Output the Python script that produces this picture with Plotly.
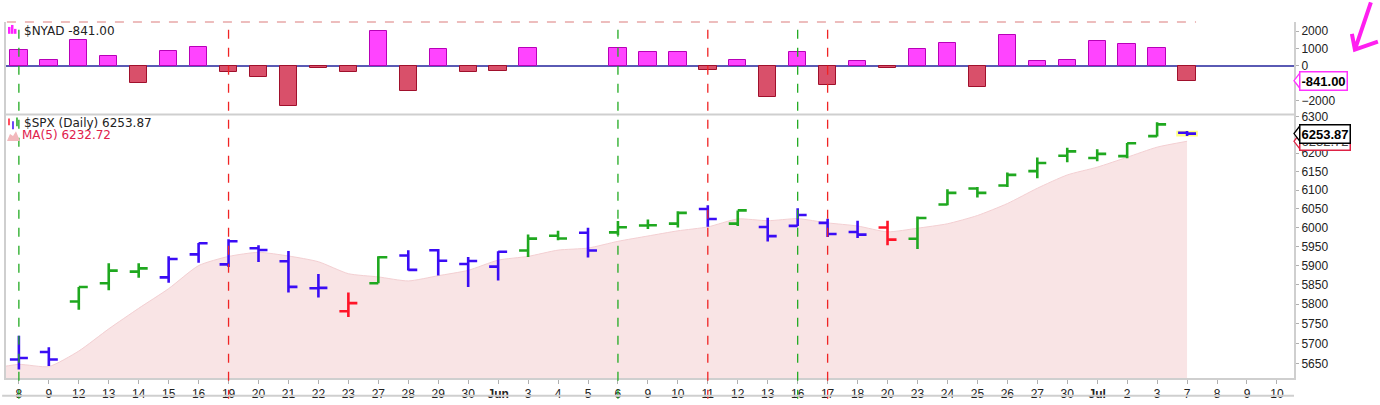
import math
import plotly.graph_objects as go

# trading days on the chart (2025)
dates = ["2025-05-08", "2025-05-09", "2025-05-12", "2025-05-13", "2025-05-14", "2025-05-15",
         "2025-05-16", "2025-05-19", "2025-05-20", "2025-05-21", "2025-05-22", "2025-05-23",
         "2025-05-27", "2025-05-28", "2025-05-29", "2025-05-30",
         "2025-06-02", "2025-06-03", "2025-06-04", "2025-06-05", "2025-06-06", "2025-06-09",
         "2025-06-10", "2025-06-11", "2025-06-12", "2025-06-13", "2025-06-16", "2025-06-17",
         "2025-06-18", "2025-06-20", "2025-06-23", "2025-06-24", "2025-06-25", "2025-06-26",
         "2025-06-27", "2025-06-30",
         "2025-07-01", "2025-07-02", "2025-07-03", "2025-07-07"]
prev_day = "2025-05-07"
empty_days = ["2025-07-08", "2025-07-09", "2025-07-10"]

tick_labels = ["8", "9", "12", "13", "14", "15", "16", "19", "20", "21", "22", "23", "27", "28",
               "29", "30", "<b>Jun</b>", "3", "4", "5", "6", "9", "10", "11", "12", "13", "16", "17",
               "18", "20", "23", "24", "25", "26", "27", "30", "<b>Jul</b>", "2", "3", "7", "8", "9", "10"]

# $SPX daily bars
opens = [5660, 5679, 5807, 5854, 5884, 5869, 5929, 5903, 5945, 5911, 5841, 5782, 5854, 5926,
         5940, 5904, 5897, 5939, 5978, 5986, 5987, 6005, 6010, 6049, 6010, 6001, 6004, 6012,
         5988, 6000, 5970, 6061, 6104, 6112, 6151, 6193, 6187, 6192, 6247, 6256]
highs = [5720, 5691, 5844, 5906, 5906, 5924, 5959, 5969, 5953, 5938, 5878, 5830, 5924, 5940,
         5943, 5922, 5937, 5981, 5991, 5999, 6017, 6021, 6043, 6059, 6045, 6026, 6051, 6023,
         6018, 6018, 6029, 6102, 6108, 6147, 6188, 6215, 6211, 6228, 6285, 6261]
lows = [5635, 5644, 5786, 5836, 5868, 5855, 5907, 5896, 5909, 5830, 5817, 5767, 5854, 5887,
        5874, 5844, 5861, 5922, 5966, 5921, 5979, 5996, 6000, 6002, 6004, 5963, 6004, 5975,
        5972, 5953, 5943, 6059, 6080, 6108, 6132, 6175, 6178, 6186, 6246, 6247]
closes = [5663.94, 5659.91, 5844.19, 5886.55, 5892.58, 5916.93, 5958.38, 5963.60, 5940.46,
          5844.61, 5842.01, 5802.82, 5921.54, 5888.55, 5912.17, 5911.69, 5935.94, 5970.37,
          5970.81, 5939.30, 6000.36, 6005.88, 6038.81, 6022.24, 6045.26, 5976.97, 6033.11,
          5982.72, 5980.87, 5967.84, 6025.17, 6092.18, 6092.16, 6141.02, 6173.07, 6204.95,
          6198.01, 6227.42, 6279.35, 6253.87]
# bar colour state from the charting package: up / neutral / down
state = ["n", "n", "u", "u", "u", "n", "n", "n", "n", "n", "n", "d", "u", "n", "n", "n",
         "n", "u", "u", "n", "u", "u", "u", "n", "u", "n", "n", "n", "n", "d", "u", "u", "u", "u",
         "u", "u", "u", "u", "u", "n"]

# MA(5) of the close, starting one day before the first bar
ma5 = [5635.88, 5647.84, 5642.48, 5681.25, 5737.17, 5789.43, 5840.03, 5899.73, 5923.61,
       5934.39, 5924.80, 5909.81, 5878.70, 5870.29, 5859.91, 5873.42, 5887.35, 5913.98,
       5923.74, 5940.20, 5945.62, 5963.36, 5977.34, 5991.03, 6001.32, 6022.51, 6017.83,
       6023.28, 6012.06, 6003.79, 5988.30, 5997.94, 6009.76, 6031.64, 6063.67, 6104.72,
       6140.68, 6161.84, 6188.89, 6216.56, 6232.72]

# $NYAD advance/decline (no print on Jun 4 and Jun 5)
nyad = [900, 340, 1465, 545, -990, 830, 1110, -355, -655, -2270, -145, -355, 2030, -1425,
        980, -355, -280, 1055, None, None, 1055, 790, 790, -225, 360, -1780, 790, -1090, 280,
        -90, 980, 1335, -1215, 1770, 280, 360, 1410, 1280, 1055, -841]

green_marks = ["2025-05-08", "2025-06-06", "2025-06-16"]
red_marks = ["2025-05-19", "2025-06-11", "2025-06-17"]

W, H = 1380, 405
ML, MR, MT, MB = 4, 86, 22, 21
PW, PH = W - ML - MR, H - MT - MB


def px(x, y):
    # pixel position -> paper coords
    return (x - ML) / PW, (H - MB - y) / PH


split = px(0, 116)[1]
categories = [prev_day] + dates + empty_days
spx_range = [math.log10(5614), math.log10(6307)]
spx_px = PH * split / (spx_range[1] - spx_range[0])   # pixels per decade
nyad_px = PH * (1 - split) / 5295.0                  # pixels per unit

fig = go.Figure()

# MA(5) area
fig.add_trace(go.Scatter(
    x=[prev_day] + dates, y=ma5, mode="lines", fill="tozeroy",
    line=dict(color="#f3cfd2", width=1, shape="spline", smoothing=0.6),
    fillcolor="#f9e4e5", hoverinfo="skip", yaxis="y"))

# NYAD bars
pos_fill, neg_fill = "#ff44ff", "#d9506a"
pos_edge, neg_edge = "#b800b8", "#a0102c"
fig.add_trace(go.Bar(
    x=dates, y=nyad, width=0.58, yaxis="y2",
    marker=dict(color=[pos_fill if (v or 0) >= 0 else neg_fill for v in nyad],
                line=dict(color=[pos_edge if (v or 0) >= 0 else neg_edge for v in nyad], width=1))))

# SPX bars split by colour state (on an overlay axis so they sit above the MA area)
state_colors = {"u": "#1fa81f", "n": "#3a0cf5", "d": "#ff1428"}
for key, col in state_colors.items():
    idx = [i for i, s in enumerate(state) if s == key]
    fig.add_trace(go.Ohlc(
        x=[dates[i] for i in idx], open=[opens[i] for i in idx], high=[highs[i] for i in idx],
        low=[lows[i] for i in idx], close=[closes[i] for i in idx], tickwidth=0.3,
        increasing=dict(line=dict(color=col, width=2.6)),
        decreasing=dict(line=dict(color=col, width=2.6)), yaxis="y3"))

shapes = []
# yellow highlight on the live bar
last = categories.index(dates[-1])
shapes.append(dict(type="rect", xref="x", yref="y", x0=last - 0.36, x1=last + 0.36,
                   y0=lows[-1] - 1, y1=highs[-1] + 1, fillcolor="#ffff80", line=dict(width=0),
                   layer="below"))
# signal lines
for d in green_marks:
    shapes.append(dict(type="line", xref="x", yref="paper", x0=d, x1=d, y0=-MB / PH, y1=1,
                       line=dict(color="#22aa22", width=1.3, dash="dash")))
for d in red_marks:
    shapes.append(dict(type="line", xref="x", yref="paper", x0=d, x1=d, y0=-MB / PH, y1=1,
                       line=dict(color="#f02424", width=1.3, dash="dash")))
# panel separators / borders
shapes.append(dict(type="line", xref="paper", yref="paper", x0=0, x1=1, y0=split, y1=split,
                   line=dict(color="#cfcfcf", width=2)))
shapes.append(dict(type="line", xref="paper", yref="paper", x0=-0.003, x1=1, y0=px(0, 402)[1],
                   y1=px(0, 402)[1], line=dict(color="#cfcfcf", width=2)))
shapes.append(dict(type="line", xref="x", yref="paper", x0=0, x1=last + 0.3, y0=1, y1=1,
                   line=dict(color="#e8a8a8", width=1.5, dash="dash")))
# legend icons
for x0, top in [(6, 27), (9, 25), (12, 29)]:
    p0, p1 = px(x0, 34), px(x0 + 2.5, top)
    shapes.append(dict(type="rect", xref="paper", yref="paper", x0=p0[0], x1=p1[0], y0=p0[1],
                       y1=p1[1], fillcolor="#ff22ff", line=dict(width=0)))
for x0, y0, y1, col in [(7, 120, 127, "#ff1428"), (11, 123, 131, "#3a0cf5"), (15, 119, 128, "#1fa81f")]:
    p0, p1 = px(x0, y0), px(x0, y1)
    shapes.append(dict(type="line", xref="paper", yref="paper", x0=p0[0], x1=p1[0], y0=p0[1],
                       y1=p1[1], line=dict(color=col, width=1.5)))
pts = [px(5, 143), px(8, 136), px(11, 138), px(14, 133), px(18, 143)]
shapes.append(dict(type="path", xref="paper", yref="paper", fillcolor="#f2b8bc", line=dict(width=0),
                   path="M" + " L".join("%.5f,%.5f" % p for p in pts) + " Z"))
# hand-drawn arrow
t0, m0, tip, lb, rb = px(1371, 2), px(1363, 26), px(1355, 50), px(1352, 34), px(1378, 42)
shapes.append(dict(type="path", xref="paper", yref="paper", line=dict(color="#ff1ff0", width=4),
                   path="M%.5f,%.5f Q%.5f,%.5f %.5f,%.5f M%.5f,%.5f L%.5f,%.5f L%.5f,%.5f" % (
                       t0 + m0 + tip + lb + tip + rb)))

# pointer tips on the last-value boxes
xa, xb = px(1294, 0)[0], px(1300, 0)[0]
for ref, val, col in [("y", ma5[-1], "#dd2244"), ("y", closes[-1], "black")]:
    up, dn = val * 10 ** (8 / spx_px), val * 10 ** (-8 / spx_px)
    shapes.append(dict(type="path", xref="paper", yref=ref, fillcolor="white",
                       line=dict(color=col, width=1.3),
                       path="M%.5f,%.3f L%.5f,%.3f L%.5f,%.3f Z" % (xb, up, xa, val, xb, dn)))
v = nyad[-1]
shapes.append(dict(type="path", xref="paper", yref="y2", fillcolor="white",
                   line=dict(color="#ff33ff", width=1.3),
                   path="M%.5f,%.1f L%.5f,%.1f L%.5f,%.1f Z" % (
                       xb, v + 8 / nyad_px, xa, v, xb, v - 8 / nyad_px)))

txt_font = dict(family="DejaVu Sans", size=12, color="#222222")
hx = px(20, 0)[0]
annotations = [
    dict(xref="paper", yref="paper", x=hx, y=px(0, 31)[1], text="$NYAD -841.00",
         showarrow=False, xanchor="left", yanchor="middle", font=txt_font),
    dict(xref="paper", yref="paper", x=hx, y=px(0, 125)[1], text="$SPX (Daily) 6253.87",
         showarrow=False, xanchor="left", yanchor="middle", font=txt_font),
    dict(xref="paper", yref="paper", x=px(18, 0)[0], y=px(0, 137)[1], text="MA(5) 6232.72",
         showarrow=False, xanchor="left", yanchor="middle",
         font=dict(family="DejaVu Sans", size=12, color="#e0204c")),
]
box_x = px(1299, 0)[0]
annotations += [
    dict(xref="paper", yref="y2", x=box_x, y=nyad[-1], text="<b>-841.00</b>", showarrow=False,
         xanchor="left", yanchor="middle", bgcolor="white", bordercolor="#ff33ff", borderwidth=1.5,
         borderpad=1, font=dict(family="Liberation Sans", size=13, color="black")),
    dict(xref="paper", yref="y", x=box_x, y=math.log10(ma5[-1]), text="6232.72", showarrow=False,
         xanchor="left", yanchor="middle", bgcolor="white", bordercolor="#dd2244", borderwidth=1.5,
         borderpad=1, font=dict(family="Liberation Sans", size=13, color="#444444")),
    dict(xref="paper", yref="y", x=box_x, y=math.log10(closes[-1]), text="<b>6253.87</b>",
         showarrow=False, xanchor="left", yanchor="middle", bgcolor="white", bordercolor="black",
         borderwidth=1.5, borderpad=1, font=dict(family="Liberation Sans", size=13, color="black")),
]

tick_font = dict(family="Liberation Sans", size=12, color="#222222")
spx_ticks = [5650, 5700, 5750, 5800, 5850, 5900, 5950, 6000, 6050, 6100, 6150, 6200, 6300]

fig.update_layout(
    width=W, height=H, margin=dict(l=ML, r=MR, t=MT, b=MB),
    paper_bgcolor="white", plot_bgcolor="white", showlegend=False, bargap=0,
    shapes=shapes, annotations=annotations,
    xaxis=dict(type="category", categoryorder="array", categoryarray=categories,
               range=[0.57, len(categories) - 0.43], tickmode="array",
               tickvals=dates + empty_days, ticktext=tick_labels, tickfont=tick_font,
               ticks="outside", ticklen=4, tickcolor="#b0b0b0", showgrid=False,
               showline=True, linecolor="#cfcfcf", linewidth=2, rangeslider=dict(visible=False),
               fixedrange=True),
    yaxis=dict(type="log", domain=[0, split], anchor="x", side="right",
               range=spx_range, tickmode="array",
               tickvals=spx_ticks, ticktext=[str(v) for v in spx_ticks], tickfont=tick_font,
               ticks="outside", ticklen=3, tickcolor="#b0b0b0", showgrid=False,
               showline=True, mirror=True, linecolor="#cfcfcf", linewidth=2, zeroline=False),
    yaxis3=dict(type="log", overlaying="y", anchor="x", side="right", range=spx_range,
                visible=False, showgrid=False, zeroline=False),
    yaxis2=dict(domain=[split, 1], anchor="x", side="right", range=[-2777, 2518],
                tickmode="array", tickvals=[-2000, 0, 1000, 2000], tickfont=tick_font,
                ticks="outside", ticklen=3, tickcolor="#b0b0b0", showgrid=False,
                showline=True, mirror=True, linecolor="#cfcfcf", linewidth=2,
                zeroline=True, zerolinecolor="#5a5ab4", zerolinewidth=1.5),
)

fig.write_html("out.html", config={"displayModeBar": False},
               post_script="document.body.style.margin = '0px';")
